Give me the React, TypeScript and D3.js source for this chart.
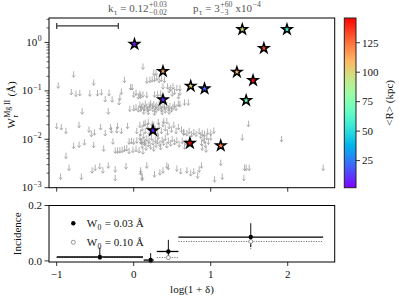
import React, { useEffect, useRef } from 'react';
import * as d3 from 'd3';

// upper limits: [log(1+delta), W_r (A)]
const upperLimits: [number, number][] = [
  [-0.78, 0.22], [-0.98, 0.13], [-0.52, 0.15], [-0.81, 0.095], [-0.75, 0.088], [-0.70, 0.091],
  [-0.57, 0.089], [-0.47, 0.09], [-0.42, 0.094], [-0.32, 0.091], [-0.37, 0.068], [-0.28, 0.067],
  [-0.19, 0.059], [-0.16, 0.097], [-0.18, 0.074], [-0.12, 0.17], [-0.04, 0.12], [-0.02, 0.12],
  [0.0, 0.085], [0.03, 0.093], [0.06, 0.078], [0.09, 0.08], [0.12, 0.32], [-0.67, 0.038],
  [-0.33, 0.038], [-0.05, 0.043], [0.0, 0.044], [0.03, 0.046], [0.06, 0.042], [0.09, 0.043],
  [-1.0, 0.019], [-0.94, 0.018], [-0.88, 0.015], [-0.71, 0.02], [-0.58, 0.016], [-0.55, 0.013],
  [-0.51, 0.014], [-0.43, 0.018], [-0.37, 0.0135], [-0.29, 0.0155], [-0.22, 0.0155], [-0.16, 0.015],
  [-0.08, 0.019], [0.04, 0.015], [0.09, 0.0135], [-0.30, 0.018], [-0.21, 0.019],
  [-0.78, 0.0074], [-0.71, 0.0078], [-0.64, 0.0087], [-0.52, 0.0077], [-0.39, 0.0065], [-0.27, 0.0091],
  [-0.24, 0.0059], [-0.21, 0.0059], [-0.18, 0.006], [-0.15, 0.0061], [-0.12, 0.0064], [-0.09, 0.0066],
  [-0.06, 0.0058], [-0.01, 0.0061], [0.03, 0.0064], [0.07, 0.006], [0.12, 0.0057],
  [-0.06, 0.0091], [-0.03, 0.0093], [0.0, 0.009], [0.04, 0.0095], [0.09, 0.0092], [0.12, 0.0095], [0.15, 0.009],
  [-0.88, 0.0046], [-0.84, 0.0026], [-0.54, 0.0023], [-0.50, 0.0026], [-0.44, 0.0028], [-0.40, 0.0023],
  [-0.33, 0.0029], [-0.24, 0.0024], [-0.10, 0.0028], [0.09, 0.0023], [-0.95, 0.0017], [-0.68, 0.0017],
  [-0.24, 0.0016], [0.11, 0.0017],
  [0.26, 0.24], [0.29, 0.24], [0.17, 0.165], [0.21, 0.17], [0.24, 0.175], [0.27, 0.18], [0.30, 0.19],
  [0.33, 0.17], [0.36, 0.18], [0.40, 0.17], [0.38, 0.125], [0.44, 0.125], [0.48, 0.115], [0.51, 0.125],
  [0.56, 0.115], [0.60, 0.115], [0.08, 0.088], [0.12, 0.085], [0.17, 0.083], [0.27, 0.085], [0.31, 0.087],
  [0.35, 0.089], [0.46, 0.105], [0.50, 0.089], [0.53, 0.097], [0.58, 0.078], [0.60, 0.093],
  [0.08, 0.052], [0.10, 0.047], [0.12, 0.05], [0.14, 0.044], [0.15, 0.055], [0.17, 0.048], [0.18, 0.042],
  [0.20, 0.051], [0.21, 0.045], [0.22, 0.056], [0.24, 0.049], [0.25, 0.043], [0.26, 0.053], [0.28, 0.047],
  [0.29, 0.041], [0.30, 0.05], [0.32, 0.045], [0.33, 0.055], [0.35, 0.048], [0.36, 0.042], [0.38, 0.051],
  [0.40, 0.046], [0.41, 0.04], [0.43, 0.05], [0.45, 0.044], [0.47, 0.049], [0.49, 0.042], [0.51, 0.047],
  [0.53, 0.052], [0.55, 0.045], [0.58, 0.055], [0.60, 0.054], [0.66, 0.058], [0.71, 0.058], [0.13, 0.038],
  [0.19, 0.037], [0.27, 0.036], [0.37, 0.037], [0.46, 0.038],
  [0.15, 0.022], [0.19, 0.023], [0.24, 0.021], [0.32, 0.023], [0.39, 0.024], [0.43, 0.024],
  [0.08, 0.02], [0.11, 0.017], [0.13, 0.021], [0.15, 0.015], [0.18, 0.019], [0.2, 0.014], [0.23, 0.018],
  [0.26, 0.02], [0.28, 0.016], [0.31, 0.013], [0.33, 0.019], [0.36, 0.015], [0.38, 0.021], [0.41, 0.017],
  [0.44, 0.014], [0.46, 0.019], [0.49, 0.016], [0.52, 0.02], [0.55, 0.015], [0.58, 0.018], [0.62, 0.016],
  [0.65, 0.014],
  [0.08, 0.011], [0.1, 0.009], [0.11, 0.0075], [0.13, 0.012], [0.14, 0.0085], [0.16, 0.0068], [0.17, 0.0105],
  [0.19, 0.008], [0.2, 0.0095], [0.22, 0.0072], [0.23, 0.011], [0.25, 0.0088], [0.26, 0.0065], [0.28, 0.01],
  [0.29, 0.0078], [0.31, 0.0092], [0.32, 0.0115], [0.34, 0.0082], [0.35, 0.007], [0.37, 0.0098], [0.39, 0.0086],
  [0.41, 0.0108], [0.43, 0.0076], [0.45, 0.0094], [0.48, 0.0083], [0.5, 0.0102], [0.53, 0.0088], [0.56, 0.0096],
  [0.59, 0.0079], [0.63, 0.0093], [0.68, 0.0087], [0.66, 0.0072],
  [0.65, 0.014], [0.69, 0.0135], [0.72, 0.015], [0.75, 0.0128], [0.78, 0.0142], [0.81, 0.0131], [0.85, 0.0147],
  [0.89, 0.0136], [0.92, 0.013], [0.96, 0.0145], [1.0, 0.0138], [1.04, 0.0152],
  [0.87, 0.012], [0.9, 0.0105], [0.92, 0.0095], [0.95, 0.0112], [0.88, 0.0085], [0.93, 0.0078], [0.97, 0.009],
  [0.89, 0.0068], [0.94, 0.0062], [1.0, 0.011],
  [0.17, 0.0029], [0.27, 0.0019], [0.34, 0.0021], [0.38, 0.0023], [0.43, 0.0029], [0.45, 0.0027],
  [0.56, 0.0025], [0.69, 0.0023], [0.61, 0.0022], [0.74, 0.002], [0.78, 0.0022], [0.83, 0.0018],
  [0.85, 0.0024], [0.88, 0.0029], [0.09, 0.0021], [0.11, 0.0016],
  [1.05, 0.0015], [1.13, 0.0033], [1.15, 0.0017],
  [1.49, 0.021], [1.41, 0.011], [1.92, 0.0102], [1.44, 0.0026], [1.46, 0.0026], [1.50, 0.0026],
  [1.43, 0.0016], [2.46, 0.0026],
];

// detections (stars)
const detX = [0.01, 0.38, 0.74, 0.92, 0.38, 0.25, 0.73, 1.13, 1.41, 1.99, 1.69, 1.34, 1.55, 1.46];
const detW = [0.92, 0.254, 0.126, 0.111, 0.066, 0.0152, 0.0083, 0.0074, 1.86, 1.86, 0.76, 0.245, 0.165, 0.0635];
const detR = [6, 115, 100, 20, 10, 8, 145, 122, 98, 58, 132, 110, 143, 72];

// typical error bar, top left
const errBarX = [-1.0, -0.2];
const errBarW = 2.2;

// incidence panel
const binLo = [-1.0, 0.13, 0.3, 0.58];
const binHi = [0.12, 0.26, 0.58, 2.46];
const binMid = [-0.44, 0.22, 0.45, 1.52];
const inc03 = [0.014, 0.003, 0.034, 0.086];
const inc03Lo = [0.006, 0.0, 0.017, 0.05];
const inc03Hi = [0.048, 0.028, 0.076, 0.136];
const inc10 = [0.012, 0.0, 0.012, 0.07];
const inc10Lo = [0.004, 0.0, 0.005, 0.042];
const inc10Hi = [0.03, 0.0, 0.03, 0.088];

const xTicks = [-1, 0, 1, 2];
const yTicksTop = [1e-3, 1e-2, 1e-1, 1];
const yTickLabelsTop = ['\u22123', '\u22122', '\u22121', '0'];
const yTicksBot = [0.0, 0.2];
const cbTicks = [25, 50, 75, 100, 125];

const FONT = '"Liberation Serif", "DejaVu Serif", serif';

function rainbow(t: number) {
  const r = Math.min(1, Math.abs(2 * t - 0.5));
  const g = Math.max(0, Math.sin(Math.PI * t));
  const b = Math.max(0, Math.cos((Math.PI * t) / 2));
  return d3.rgb(r * 255, g * 255, b * 255).toString();
}

type Part = string | { sup?: string; sub?: string };

function mathText(parent: any, parts: Part[], size: number, anchor: string, fill = '#111') {
  const g = parent.append('g');
  let cx = 0;
  const add = (x: number, y: number, s: number, txt: string) => {
    const t = g.append('text').attr('x', x).attr('y', y).attr('font-size', s)
      .attr('fill', fill).style('white-space', 'pre').style('font-family', FONT).text(txt);
    return (t.node() as SVGTextElement).getComputedTextLength();
  };
  parts.forEach(p => {
    if (typeof p === 'string') {
      cx += add(cx, 0, size, p);
    } else {
      let w = 0;
      if (p.sup) w = Math.max(w, add(cx + 0.5, -size * 0.42, size * 0.7, p.sup));
      if (p.sub) w = Math.max(w, add(cx + 0.5, size * 0.3, size * 0.7, p.sub));
      cx += w + 1;
    }
  });
  const dx = anchor === 'middle' ? -cx / 2 : anchor === 'end' ? -cx : 0;
  g.attr('transform', `translate(${dx},0)`);
  return g;
}

function Chart() {
  const ref = useRef<SVGSVGElement>(null);

  useEffect(() => {
    const svg = d3.select(ref.current);
    svg.selectAll('*').remove();

    const L = 49, R = 334.7, T = 18, B = 187.7;
    const bT = 205.5, bB = 262;

    const x = d3.scaleLinear().domain([-1.1, 2.61]).range([L, R]);
    const y = d3.scaleLog().domain([1e-3, 3.2]).range([B, T]);
    const yb = d3.scaleLinear().domain([-0.004, 0.2]).range([bB, bT]);
    const cmin = 2, cmax = 146;
    const cy = d3.scaleLinear().domain([cmin, cmax]).range([B, T]);
    const col = (v: number) => rainbow((v - cmin) / (cmax - cmin));

    const label = (sel: any) => sel.attr('font-size', 11).attr('fill', '#111').style('font-family', FONT);

    // ---------- top panel ----------
    const arrows = svg.append('g').attr('stroke', '#9a9a9a').attr('stroke-width', 0.75).attr('fill', 'none');
    arrows.selectAll('path').data(upperLimits).enter().append('path')
      .attr('transform', d => `translate(${x(d[0])},${y(d[1])})`)
      .attr('d', 'M0,-3V3M-1.6,1L0,3L1.6,1');

    const star = d3.symbol().type(d3.symbolStar).size(30);
    svg.append('g').selectAll('path').data(detX).enter().append('path')
      .attr('transform', (d, i) => `translate(${x(d)},${y(detW[i])})`)
      .attr('d', star)
      .attr('fill', (d, i) => col(detR[i]))
      .attr('stroke', '#000').attr('stroke-width', 1.5).attr('stroke-linejoin', 'miter');

    // typical error bar
    const eb = svg.append('g').attr('stroke', '#333').attr('stroke-width', 1.2);
    eb.append('line').attr('x1', x(errBarX[0])).attr('x2', x(errBarX[1])).attr('y1', y(errBarW)).attr('y2', y(errBarW));
    errBarX.forEach(v => eb.append('line').attr('x1', x(v)).attr('x2', x(v))
      .attr('y1', y(errBarW) - 3).attr('y2', y(errBarW) + 3));

    svg.append('rect').attr('x', L).attr('y', T).attr('width', R - L).attr('height', B - T)
      .attr('fill', 'none').attr('stroke', '#000').attr('stroke-width', 1);

    const tk = svg.append('g').attr('stroke', '#000').attr('stroke-width', 0.8);
    xTicks.forEach(v => {
      tk.append('line').attr('x1', x(v)).attr('x2', x(v)).attr('y1', B).attr('y2', B + 4);
      tk.append('line').attr('x1', x(v)).attr('x2', x(v)).attr('y1', bB).attr('y2', bB + 4);
    });
    yTicksTop.forEach(v => {
      tk.append('line').attr('x1', L - 4.5).attr('x2', L).attr('y1', y(v)).attr('y2', y(v));
      for (let m = 2; m <= 9; m++) {
        const mv = v * m;
        if (mv > 3.2) break;
        tk.append('line').attr('x1', L - 2.5).attr('x2', L).attr('y1', y(mv)).attr('y2', y(mv)).attr('stroke-width', 0.6);
      }
    });
    yTicksTop.forEach((v, i) => {
      const g = svg.append('g').attr('transform', `translate(${L - 7},${y(v) + 3.5})`);
      mathText(g, ['10', { sup: yTickLabelsTop[i] }], 11, 'end');
    });

    const yl = svg.append('g').attr('transform', `translate(15,${(T + B) / 2 + 2}) rotate(-90)`);
    mathText(yl, ['W', { sup: 'Mg II', sub: 'r' }, ' (\u00c5)'], 11, 'middle');

    // title
    const t1 = svg.append('g').attr('transform', 'translate(108,12)');
    mathText(t1, ['k', { sub: '\u03c4' }, ' = 0.12', { sup: '+0.03', sub: '\u22120.02' }], 11, 'start', '#555');
    const t2 = svg.append('g').attr('transform', 'translate(193,12)');
    mathText(t2, ['p', { sub: '\u03c4' }, ' = 3', { sup: '+60', sub: '\u22123' }, ' x10', { sup: '\u22124' }], 11, 'start', '#555');

    // colorbar
    const cbL = 344.3, cbR = 356;
    const grad = svg.append('defs').append('linearGradient').attr('id', 'cbg')
      .attr('x1', 0).attr('y1', 1).attr('x2', 0).attr('y2', 0);
    d3.range(0, 1.0001, 0.05).forEach(t => grad.append('stop').attr('offset', t).attr('stop-color', rainbow(t)));
    svg.append('rect').attr('x', cbL).attr('y', T).attr('width', cbR - cbL).attr('height', B - T)
      .attr('fill', 'url(#cbg)').attr('stroke', '#222').attr('stroke-width', 1);
    cbTicks.forEach(v => {
      tk.append('line').attr('x1', cbR).attr('x2', cbR + 4).attr('y1', cy(v)).attr('y2', cy(v));
      svg.append('text').attr('x', cbR + 6).attr('y', cy(v) + 3.8).call(label).text(v);
    });
    svg.append('text').attr('transform', `translate(393,${(T + B) / 2}) rotate(-90)`)
      .attr('text-anchor', 'middle').call(label).text('<R> (kpc)');

    // ---------- bottom panel ----------
    const dot = svg.append('g');
    binLo.forEach((lo, i) => {
      dot.append('line').attr('x1', x(lo)).attr('x2', x(binHi[i])).attr('y1', yb(inc10[i])).attr('y2', yb(inc10[i]))
        .attr('stroke', '#777').attr('stroke-width', 1).attr('stroke-dasharray', '1.2,1.3');
      if (inc10Hi[i] > inc10Lo[i]) {
        dot.append('line').attr('x1', x(binMid[i])).attr('x2', x(binMid[i])).attr('y1', yb(inc10Lo[i])).attr('y2', yb(inc10Hi[i]))
          .attr('stroke', '#888').attr('stroke-width', 1).attr('stroke-dasharray', '1.5,1.2');
      }
    });
    const sol = svg.append('g');
    binLo.forEach((lo, i) => {
      sol.append('line').attr('x1', x(lo)).attr('x2', x(binHi[i])).attr('y1', yb(inc03[i])).attr('y2', yb(inc03[i]))
        .attr('stroke', '#000').attr('stroke-width', 1.3);
      sol.append('line').attr('x1', x(binMid[i])).attr('x2', x(binMid[i])).attr('y1', yb(inc03Lo[i])).attr('y2', yb(inc03Hi[i]))
        .attr('stroke', '#111').attr('stroke-width', 1);
    });
    binMid.forEach((m, i) => {
      svg.append('circle').attr('cx', x(m)).attr('cy', yb(inc10[i])).attr('r', 2)
        .attr('fill', '#fff').attr('stroke', '#888').attr('stroke-width', 0.9);
      svg.append('circle').attr('cx', x(m)).attr('cy', yb(inc03[i])).attr('r', 2.2).attr('fill', '#000');
    });

    svg.append('rect').attr('x', L).attr('y', bT).attr('width', R - L).attr('height', bB - bT)
      .attr('fill', 'none').attr('stroke', '#000').attr('stroke-width', 1);
    yTicksBot.forEach(v => {
      tk.append('line').attr('x1', L - 4.5).attr('x2', L).attr('y1', yb(v)).attr('y2', yb(v));
      svg.append('text').attr('x', L - 7).attr('y', yb(v) + 3.8).attr('text-anchor', 'end')
        .call(label).text(v.toFixed(1));
    });
    xTicks.forEach(v => {
      svg.append('text').attr('x', x(v)).attr('y', 278).attr('text-anchor', 'middle')
        .call(label).text(v < 0 ? '\u2212' + Math.abs(v) : String(v));
    });
    svg.append('text').attr('transform', `translate(21,${(bT + bB) / 2}) rotate(-90)`)
      .attr('text-anchor', 'middle').call(label).text('Incidence');
    svg.append('text').attr('x', 192).attr('y', 293).attr('text-anchor', 'middle')
      .call(label).text('log(1 + \u03b4)');

    // legend
    svg.append('circle').attr('cx', 73.3).attr('cy', 223.3).attr('r', 2.2).attr('fill', '#000');
    svg.append('circle').attr('cx', 73.3).attr('cy', 242.3).attr('r', 2).attr('fill', '#fff')
      .attr('stroke', '#888').attr('stroke-width', 0.9);
    const lg1 = svg.append('g').attr('transform', 'translate(86.7,227)');
    mathText(lg1, ['W', { sub: '0' }, ' = 0.03 \u00c5'], 11, 'start');
    const lg2 = svg.append('g').attr('transform', 'translate(86.7,246)');
    mathText(lg2, ['W', { sub: '0' }, ' = 0.10 \u00c5'], 11, 'start');
  }, []);

  return <svg ref={ref} width={399} height={299} style={{ position: 'absolute', left: 0, top: 0 }} />;
}

export default function App() {
  return <Chart />;
}
